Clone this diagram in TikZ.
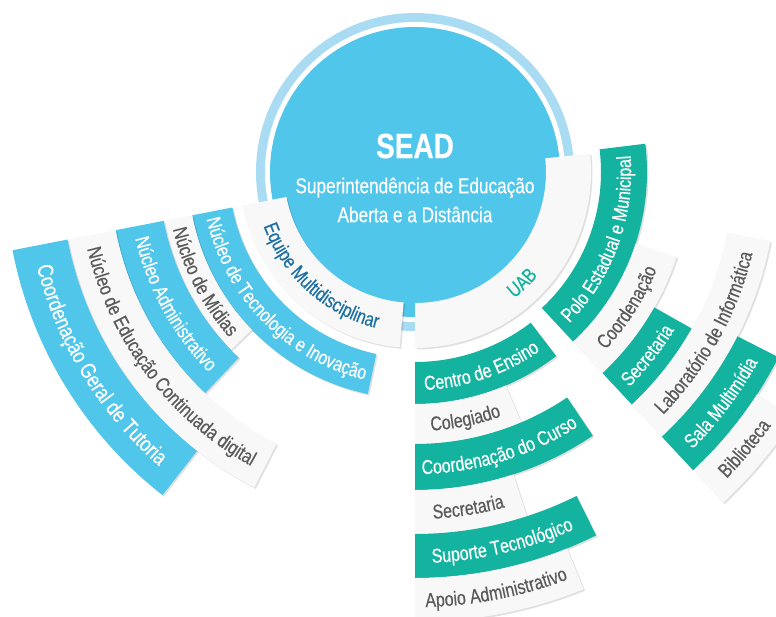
\documentclass[tikz,border=0pt]{standalone}
\usepackage{fontspec}
\setmainfont{Liberation Sans}[FakeStretch=0.8, FakeBold=0.4]
\usetikzlibrary{decorations.text,shadows}

\definecolor{seadblue}{HTML}{4FC6EA}
\definecolor{ringblue}{HTML}{A9DCF3}
\definecolor{uabteal}{HTML}{13B3A0}
\definecolor{bandwhite}{HTML}{F8F8F8}
\definecolor{labelgray}{HTML}{5A5A5A}
\definecolor{equipeblue}{HTML}{1B6FA3}

% start, end, inner r, outer r, fill
\newcommand{\ringshape}[5]{%
  \path[bandfill=#5] (#1:#3) arc[start angle=#1, end angle=#2, radius=#3]
    -- (#2:#4) arc[start angle=#2, end angle=#1, radius=#4] -- cycle;}
% start, end, mid r, text colour, size, text
\newcommand{\ringlabel}[6]{%
  \pgfmathsetmacro{\arcA}{#1-8}\pgfmathsetmacro{\arcB}{#2+8}%
  \pgfmathsetmacro{\arcR}{#3+0.36*#5}%
  \path[decorate, decoration={text along path, text align=center,
      text={|\fontsize{#5}{#5}\selectfont\color{#4}|#6}}]
    (\arcA:\arcR) arc[start angle=\arcA, end angle=\arcB, radius=\arcR];}
\newcommand{\ringband}[8]{%
  \ringshape{#1}{#2}{#3}{#4}{#5}%
  \pgfmathsetmacro{\arcM}{(#3+#4)/2}%
  \ringlabel{#1}{#2}{\arcM}{#6}{#7}{#8}}

\begin{document}
\begin{tikzpicture}[
    x=1pt, y=1pt,
    bandfill/.style={fill=#1, drop shadow={fill=black, opacity=0.12, shadow xshift=1.5pt, shadow yshift=-1.5pt}},
    title/.style={text=white, font=\fontsize{35}{35}\selectfont\bfseries},
    subtitle/.style={text=white, align=center, font=\fontsize{21.5}{29}\selectfont}
]
\useasboundingbox (-415,-444) rectangle (361,172);
\clip (-415,-444) rectangle (361,172);
\fill[white] (-415,-444) rectangle (361,172);

% centre
\fill[ringblue] (0,0) circle[radius=159];
\fill[white] (0,0) circle[radius=150];
\fill[seadblue] (0,0) circle[radius=145];

% first ring
\ringshape{191}{265}{131}{176}{bandwhite}
\ringlabel{191}{265}{153.5}{equipeblue}{20}{Equipe Multidisciplinar}
\ringshape{270}{366}{131}{176}{bandwhite}
\ringlabel{304}{324}{153.5}{uabteal}{20}{UAB}

\node[title] (sead) at (0,26) {SEAD};
\node[subtitle] (subtitle) at (0,-28) {Superintendência de Educação\\Aberta e a Distância};

% equipe
\ringband{191}{258}{186}{227}{seadblue}{white}{20}{Núcleo de Tecnologia e Inovação}
\ringband{191}{224}{227}{256}{bandwhite}{labelgray}{20}{Núcleo de Mídias}
\ringband{191}{226.5}{256}{305}{seadblue}{white}{20}{Núcleo Administrativo}
\ringband{191}{243}{305}{354}{bandwhite}{labelgray}{20}{Núcleo de Educação Continuada digital}
\ringband{191}{232}{354}{410}{seadblue}{white}{22}{Coordenação Geral de Tutoria}

% polo
\ringband{-47}{7}{186}{232}{uabteal}{white}{20}{Polo Estadual e Municipal}
\ringband{-47}{-18}{232}{275}{bandwhite}{labelgray}{20}{Coordenação}
\ringband{-47}{-29.5}{275}{318}{uabteal}{white}{20}{Secretaria}
\ringband{-47}{-11}{318}{362}{bandwhite}{labelgray}{20}{Laboratório de Informática}
\ringband{-47}{-27}{362}{408}{uabteal}{white}{20}{Sala Multimídia}
\ringband{-47}{-33}{408}{452}{bandwhite}{labelgray}{20}{Biblioteca}

% centro de ensino
\ringband{-90}{-52.5}{190}{232}{uabteal}{white}{20}{Centro de Ensino}
\ringband{-90}{-67}{232}{272}{bandwhite}{labelgray}{20}{Colegiado}
\ringband{-90}{-56}{272}{318}{uabteal}{white}{20}{Coordenação do Curso}
\ringband{-90}{-72}{318}{362}{bandwhite}{labelgray}{20}{Secretaria}
\ringband{-90}{-63.5}{362}{406}{uabteal}{white}{20}{Suporte Tecnológico}
\ringband{-90}{-68}{406}{450}{bandwhite}{labelgray}{20}{Apoio Administrativo}
\end{tikzpicture}
\end{document}
